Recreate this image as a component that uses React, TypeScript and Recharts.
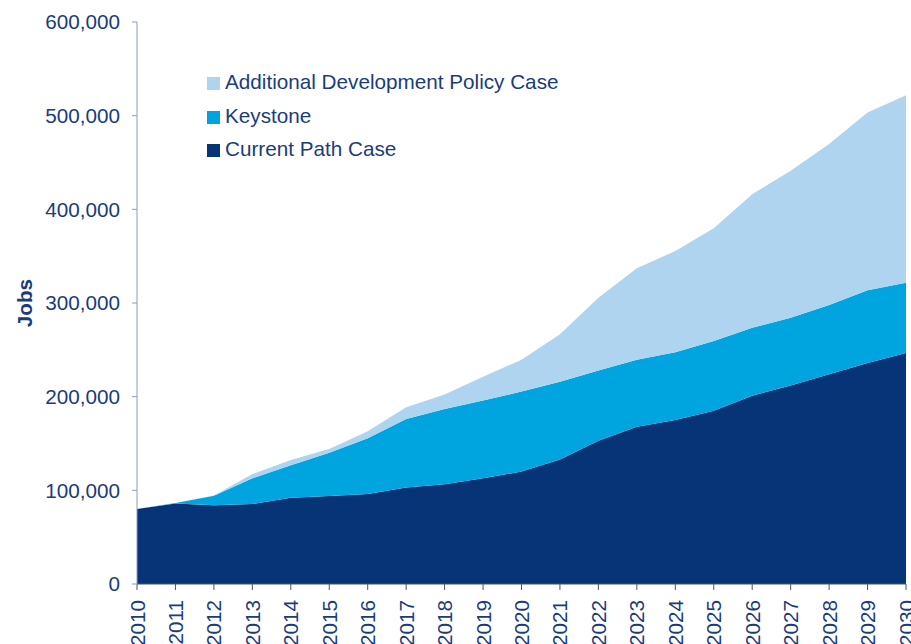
import { AreaChart, Area, XAxis, YAxis } from "recharts";

const years = [
  "2010", "2011", "2012", "2013", "2014", "2015", "2016", "2017", "2018", "2019", "2020",
  "2021", "2022", "2023", "2024", "2025", "2026", "2027", "2028", "2029", "2030",
];

// stacked layers (each value is the layer's own thickness)
const currentPath = [
  80000, 86000, 84000, 85500, 92000, 94000, 96000, 103000, 106500, 113000, 120000,
  133000, 153000, 168000, 175000, 185000, 201000, 212000, 224000, 236000, 246500,
];
const keystone = [
  0, 500, 10300, 27300, 34700, 46200, 59700, 73100, 80300, 83000, 85500,
  83000, 75000, 71300, 72400, 74400, 72600, 72300, 73900, 77500, 75200,
];
const additional = [
  0, 0, 200, 4600, 5700, 3900, 7300, 12700, 15500, 25300, 34000,
  50600, 77700, 97700, 108100, 120300, 142400, 156900, 171800, 190000, 200000,
];

const yTicks = [0, 100000, 200000, 300000, 400000, 500000, 600000];

const TEXT = "#1B3C7C";
const FONT = "'Liberation Sans', Arial, sans-serif";
const FS = 20.7;

const legendItems = [
  { label: "Additional Development Policy Case", color: "#AFD4EF" },
  { label: "Keystone", color: "#00A5E0" },
  { label: "Current Path Case", color: "#073476" },
];

const data = years.map((year, i) => ({
  year,
  current: currentPath[i],
  keystone: keystone[i],
  additional: additional[i],
}));

function YearTick({ x, y, payload }: { x?: number; y?: number; payload?: { value: string } }) {
  const ty = (y ?? 0) + 8;
  return (
    <text
      x={x}
      y={ty}
      transform={`rotate(-90, ${x}, ${ty})`}
      textAnchor="end"
      dominantBaseline="central"
      fill={TEXT}
      fontSize={FS}
      fontFamily={FONT}
    >
      {payload?.value}
    </text>
  );
}

function ChartLegend() {
  return (
    <div
      style={{
        position: "absolute",
        left: 207,
        top: 65,
        fontFamily: FONT,
        fontSize: FS,
        color: TEXT,
      }}
    >
      {legendItems.map((item) => (
        <div
          key={item.label}
          style={{ display: "flex", alignItems: "center", height: 33.5, lineHeight: "33.5px" }}
        >
          <span
            style={{
              display: "inline-block",
              width: 13,
              height: 13,
              marginRight: 5,
              marginTop: 4,
              backgroundColor: item.color,
            }}
          />
          <span>{item.label}</span>
        </div>
      ))}
    </div>
  );
}

export default function App() {
  return (
    <div style={{ position: "absolute", left: 0, top: 0, width: 911, height: 644, background: "#fff" }}>
      <AreaChart
        width={911}
        height={644}
        data={data}
        margin={{ top: 22, right: 5, bottom: 0, left: 0 }}
      >
        <XAxis
          dataKey="year"
          height={60}
          tick={<YearTick />}
          interval={0}
          tickSize={6}
          stroke="#555"
          tickLine={{ stroke: "#555" }}
        />
        <YAxis
          width={137}
          domain={[0, 600000]}
          ticks={yTicks}
          tickSize={5}
          tickMargin={12}
          stroke="#8A9DBC"
          tickFormatter={(v: number) => v.toLocaleString("en-US")}
          tick={{ fill: TEXT, fontSize: FS, fontFamily: FONT }}
          label={{
            value: "Jobs",
            angle: -90,
            position: "insideLeft",
            offset: 0,
            dx: 25,
            style: { fill: TEXT, fontSize: FS, fontWeight: "bold", fontFamily: FONT, textAnchor: "middle" },
          }}
        />
        <Area
          type="linear"
          dataKey="current"
          stackId="a"
          stroke="none"
          fill="#073476"
          fillOpacity={1}
          isAnimationActive={false}
        />
        <Area
          type="linear"
          dataKey="keystone"
          stackId="a"
          stroke="none"
          fill="#00A5E0"
          fillOpacity={1}
          isAnimationActive={false}
        />
        <Area
          type="linear"
          dataKey="additional"
          stackId="a"
          stroke="none"
          fill="#AFD4EF"
          fillOpacity={1}
          isAnimationActive={false}
        />
      </AreaChart>
      <ChartLegend />
    </div>
  );
}
